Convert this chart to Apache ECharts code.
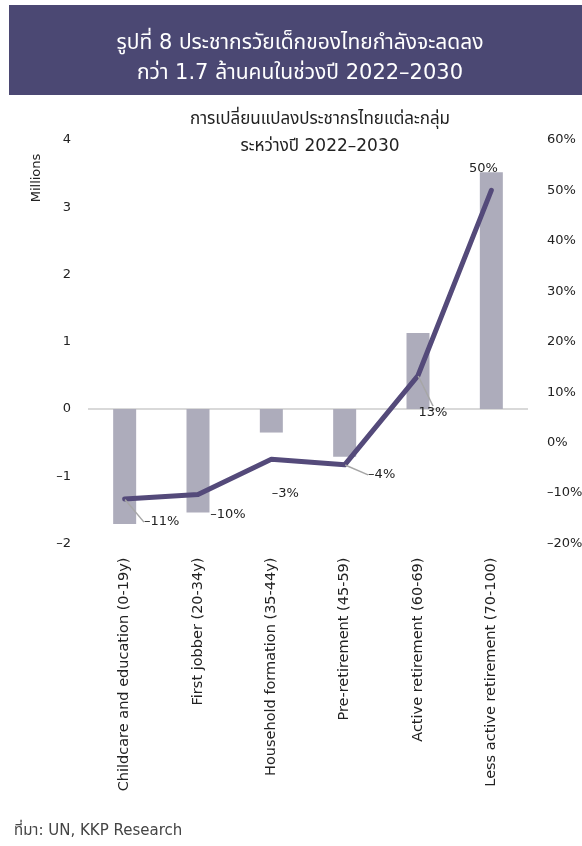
<!DOCTYPE html>
<html>
<head>
<meta charset="utf-8">
<script src="https://cdn.jsdelivr.net/npm/echarts@6/dist/echarts.min.js"></script>
<style>
html,body{margin:0;padding:0;background:#fff;}
#chart{width:582px;height:846px;}
</style>
</head>
<body>
<div id="chart"></div>
<script>
// ---- data ----
const categories = [
  'Childcare and education (0-19y)',
  'First jobber (20-34y)',
  'Household formation (35-44y)',
  'Pre-retirement (45-59)',
  'Active retirement (60-69)',
  'Less active retirement (70-100)'
];
const changeMillions = [-1.71, -1.54, -0.35, -0.71, 1.13, 3.52];
const changePercent = [-11.2, -10.3, -3.3, -4.4, 13.3, 50.0];
const leftTicks = [-2, -1, 0, 1, 2, 3, 4];
const rightTicks = [-20, -10, 0, 10, 20, 30, 40, 50, 60];

const titleLines = ['รูปที่ 8 ประชากรวัยเด็กของไทยกำลังจะลดลง', 'กว่า 1.7 ล้านคนในช่วงปี 2022–2030'];
const subtitleLines = ['การเปลี่ยนแปลงประชากรไทยแต่ละกลุ่ม', 'ระหว่างปี 2022–2030'];
const sourceText = 'ที่มา: UN, KKP Research';

// label offsets (styling)
const labelOffsets = [[37, 23], [30, 20], [14, 34], [37, 10], [15, 37], [-8, -22]];
const labelLeader = [true, false, false, true, true, false];

const FONT = '"DejaVu Sans", "Noto Sans Thai", "Noto Sans", sans-serif';
const chart = echarts.init(document.getElementById('chart'), null, {renderer: 'canvas'});

const zeroColors = leftTicks.map(v => v === 0 ? '#d9d9d9' : 'rgba(0,0,0,0)');
const fmtNeg = v => (v < 0 ? '–' + Math.abs(v) : String(v));

chart.setOption({
  animation: false,
  textStyle: {fontFamily: FONT},
  title: [
    {text: titleLines.join('\n'), left: 295, top: 24, textAlign: 'center',
     textStyle: {color: '#ffffff', fontSize: 21, fontWeight: 'normal', lineHeight: 30, fontFamily: FONT}},
    {text: subtitleLines.join('\n'), left: 315, top: 101, textAlign: 'center',
     textStyle: {color: '#222', fontSize: 17, fontWeight: 'normal', lineHeight: 27, fontFamily: FONT}}
  ],
  graphic: [
    {type: 'rect', z: -1, shape: {x: 9, y: 5, width: 573, height: 90}, style: {fill: '#4b4873'}},
    {type: 'text', x: 37, y: 178, rotation: Math.PI / 2,
     style: {text: 'Millions', fill: '#222', font: '13px ' + FONT, align: 'center', verticalAlign: 'middle'}},
    {type: 'text', x: 14, y: 831,
     style: {text: sourceText, fill: '#444', font: '15px ' + FONT, align: 'left', verticalAlign: 'middle'}}
  ],
  grid: {left: 88, right: 54, top: 140, bottom: 302.5, containLabel: false, outerBoundsMode: 'none'},
  xAxis: {
    type: 'category', data: categories, position: 'bottom',
    axisLine: {show: false, onZero: false}, axisTick: {show: false},
    axisLabel: {rotate: 90, margin: 14, fontSize: 14.5, color: '#222', interval: 0, fontFamily: FONT}
  },
  yAxis: [
    {type: 'value', min: leftTicks[0], max: leftTicks[leftTicks.length - 1], interval: 1,
     axisLine: {show: false}, axisTick: {show: false},
     axisLabel: {fontSize: 13, color: '#222', margin: 17, fontFamily: FONT, formatter: fmtNeg},
     splitLine: {show: true, lineStyle: {color: zeroColors, width: 2}}},
    {type: 'value', min: rightTicks[0], max: rightTicks[rightTicks.length - 1], interval: 10,
     axisLine: {show: false}, axisTick: {show: false},
     axisLabel: {fontSize: 13, color: '#222', margin: 19, fontFamily: FONT,
       formatter: v => fmtNeg(v) + '%'},
     splitLine: {show: false}}
  ],
  series: [
    {type: 'bar', data: changeMillions, yAxisIndex: 0, barWidth: 23,
     itemStyle: {color: '#adacbb'}, z: 1},
    {type: 'line', yAxisIndex: 1, z: 3,
     data: changePercent.map((v, i) => ({value: v, labelLine: {show: labelLeader[i]}})),
     showSymbol: true, symbol: 'circle', symbolSize: 1,
     itemStyle: {color: '#544a7a'},
     lineStyle: {color: '#544a7a', width: 5, cap: 'round', join: 'round'},
     label: {show: true, position: 'inside', fontSize: 13, color: '#222', fontFamily: FONT,
       formatter: p => fmtNeg(Math.round(p.value)) + '%'},
     labelLine: {show: true, lineStyle: {color: '#a6a6a6', width: 1.5}},
     labelLayout: p => ({dx: labelOffsets[p.dataIndex][0], dy: labelOffsets[p.dataIndex][1]})
    }
  ]
});
</script>
</body>
</html>
